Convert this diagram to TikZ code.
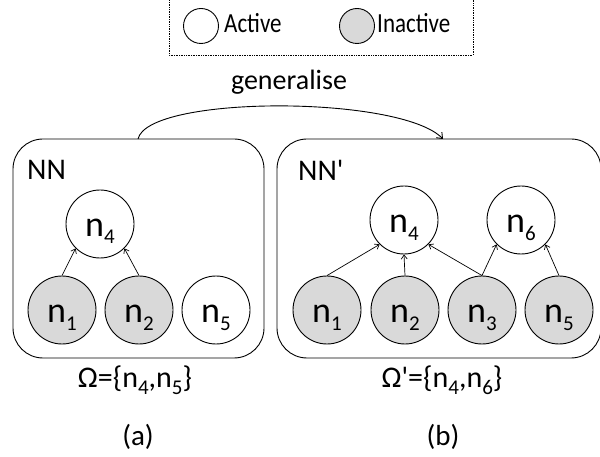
\documentclass[tikz,border=0pt]{standalone}
\usepackage{graphicx}
\usepackage{fontspec}
\setmainfont{Carlito}
\usetikzlibrary{arrows.meta}
\definecolor{inact}{RGB}{217,217,217}
\newcommand\tstr[1]{\scalebox{1}[1.2]{#1}}
\newcommand\nsub[2]{#1\raisebox{-7.3pt}{\fontsize{21}{22}\selectfont #2}}
\newcommand\apos{\textquotesingle}
\tikzset{
  nd/.style={circle,draw,line width=0.9pt,minimum size=68pt,inner sep=0pt,
    font=\fontsize{36}{38}\selectfont,text height=30pt,text depth=4.6pt},
  act/.style={nd,fill=white},
  inac/.style={nd,fill=inact},
  lg/.style={circle,draw,line width=0.9pt,minimum size=35pt,inner sep=0pt},
  netbox/.style={draw,line width=0.9pt,rounded corners=30pt},
  edge/.style={-{Straight Barb[length=4pt,width=6pt]},line width=0.7pt},
  lbl/.style={font=\fontsize{30}{32}\selectfont,inner sep=0pt,anchor=base},
  lgt/.style={font=\fontsize{23}{26}\selectfont,inner sep=0pt,anchor=base west}
}
\begin{document}
\begin{tikzpicture}[x=1pt,y=-1pt]
\useasboundingbox (0,0) rectangle (600,457);
% legend
\draw[densely dotted,line width=0.7pt] (169,-3) rectangle (473,55);
\node[lg,fill=white] (la) at (201,26) {};
\node[lgt] (lat) at (224,33) {\tstr{Active}};
\node[lg,fill=inact] (li) at (357,26) {};
\node[lgt] (lit) at (377,33) {\tstr{Inactive}};
% boxes
\draw[netbox] (13,139) rectangle (264,358);
\draw[netbox] (277,139) rectangle (601,358);
\coordinate (s) at (138,139);
\coordinate (t) at (443,139);
\draw[line width=0.9pt,-{Straight Barb[length=5pt,width=8pt]}] (s) .. controls (148,95) and (400,95) .. (t);
\node[font=\fontsize{28}{30}\selectfont,inner sep=0pt,anchor=base] (gen) at (289,90) {generalise};
% left network
\node[lbl,anchor=base west] (NN) at (27,180) {NN};
\node[act] (a4) at (100,224) {\nsub{n}{4}};
\node[inac] (a1) at (62,310) {\nsub{n}{1}};
\node[inac] (a2) at (139,310) {\nsub{n}{2}};
\node[act] (a5) at (216,310) {\nsub{n}{5}};
\draw[edge] (a1.north) -- (a4.south west);
\draw[edge] (a2.north) -- (a4.south east);
% right network
\node[lbl,anchor=base west] (NNp) at (298,181) {NN\apos};
\node[act] (b4) at (404,220) {\nsub{n}{4}};
\node[act] (b6) at (521,220) {\nsub{n}{6}};
\node[inac] (b1) at (327,310) {\nsub{n}{1}};
\node[inac] (b2) at (405,310) {\nsub{n}{2}};
\node[inac] (b3) at (482,310) {\nsub{n}{3}};
\node[inac] (b5) at (559,310) {\nsub{n}{5}};
\draw[edge] (b1.north) -- (b4.south west);
\draw[edge] (b2.north) -- (b4.south);
\draw[edge] (b3.north) -- (b4.south east);
\draw[edge] (b3.north) -- (b6.south west);
\draw[edge] (b5.north) -- (b6.south east);
% captions
\node[lbl] (oa) at (135,387) {Ω=\{\nsub{n}{4},\nsub{n}{5}\}};
\node[lbl] (ob) at (442,387) {Ω\apos=\{\nsub{n}{4},\nsub{n}{6}\}};
\node[lbl,font=\fontsize{29}{31}\selectfont] (ca) at (138,445) {(a)};
\node[lbl,font=\fontsize{29}{31}\selectfont] (cb) at (443,445) {(b)};
\end{tikzpicture}
\end{document}
